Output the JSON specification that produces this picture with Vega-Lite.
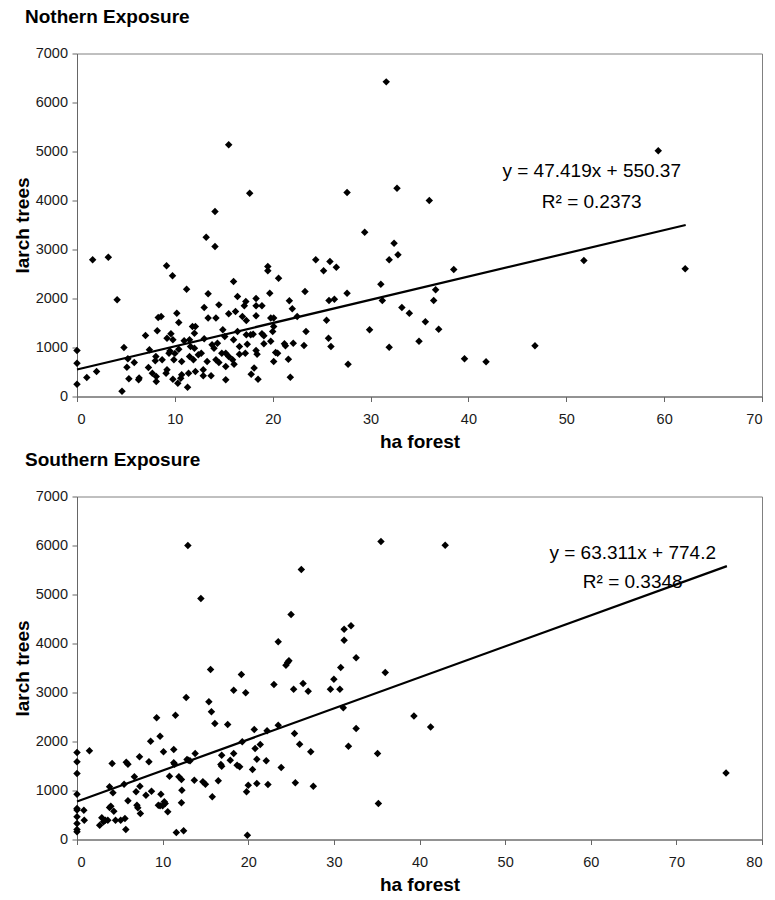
{
  "$schema": "https://vega.github.io/schema/vega-lite/v6.json",
  "background": "white",
  "padding": {"left": 12, "top": 6.5, "right": 5, "bottom": 5},
  "spacing": 100,
  "bounds": "flush",
  "config": {
    "font": "Liberation Sans",
    "view": {"stroke": "#808080", "strokeWidth": 1},
    "axis": {
      "grid": false,
      "domainColor": "#666666",
      "tickColor": "#666666",
      "tickSize": 5,
      "labelFont": "Liberation Sans",
      "labelFontSize": 14.5,
      "labelColor": "#1a1a1a",
      "titleFont": "Liberation Sans",
      "titleFontSize": 19,
      "titleFontWeight": "bold",
      "titleColor": "#000000"
    },
    "axisX": {"labelPadding": 10.5, "titlePadding": 7},
    "axisY": {"labelPadding": 4.5, "titlePadding": 3},
    "title": {"font": "Liberation Sans", "fontSize": 19, "fontWeight": "bold", "color": "#000000", "anchor": "start", "frame": "group"}
  },
  "datasets": {
    "north": [
      {"ha":0,"larch":939},{"ha":0,"larch":680},{"ha":0,"larch":252},{"ha":1,"larch":388},{"ha":1.6,"larch":2789},{"ha":2.0,"larch":510},{"ha":3.2,"larch":2844},{"ha":4.1,"larch":1973},{"ha":4.6,"larch":109},{"ha":4.8,"larch":1000},
      {"ha":5.2,"larch":769},{"ha":5.1,"larch":599},{"ha":5.3,"larch":361},{"ha":5.85,"larch":694},{"ha":6.3,"larch":340},{"ha":6.35,"larch":380},{"ha":7.0,"larch":1245},{"ha":7.4,"larch":952},{"ha":7.3,"larch":592},{"ha":7.7,"larch":476},
      {"ha":8.0,"larch":728},{"ha":8.1,"larch":408},{"ha":8.2,"larch":1340},{"ha":8.3,"larch":1612},{"ha":8.6,"larch":1633},{"ha":8.06,"larch":816},{"ha":8.7,"larch":748},{"ha":8.1,"larch":306},{"ha":9.15,"larch":2667},{"ha":9.76,"larch":2463},
      {"ha":9.2,"larch":544},{"ha":9.1,"larch":476},{"ha":9.6,"larch":1279},{"ha":9.4,"larch":884},{"ha":9.8,"larch":1156},{"ha":9.2,"larch":1190},{"ha":9.9,"larch":748},{"ha":9.8,"larch":354},{"ha":10.2,"larch":1700},{"ha":10.4,"larch":1510},
      {"ha":10.4,"larch":966},{"ha":10.3,"larch":272},{"ha":10.6,"larch":374},{"ha":10.7,"larch":442},{"ha":10.7,"larch":714},{"ha":10.95,"larch":1136},{"ha":11.2,"larch":2190},{"ha":11.3,"larch":190},{"ha":11.5,"larch":1156},{"ha":11.6,"larch":1020},
      {"ha":11.5,"larch":816},{"ha":11.4,"larch":476},{"ha":11.8,"larch":1428},{"ha":12.1,"larch":1428},{"ha":12.0,"larch":986},{"ha":11.9,"larch":748},{"ha":12.1,"larch":510},{"ha":12.4,"larch":850},{"ha":12.7,"larch":884},{"ha":12.9,"larch":544},
      {"ha":12.9,"larch":422},{"ha":13.0,"larch":1816},{"ha":13.0,"larch":1177},{"ha":13.2,"larch":3252},{"ha":13.4,"larch":2095},{"ha":13.3,"larch":714},{"ha":13.4,"larch":1600},{"ha":13.7,"larch":422},{"ha":13.8,"larch":1054},{"ha":14.0,"larch":986},
      {"ha":14.1,"larch":3061},{"ha":14.1,"larch":3776},{"ha":14.2,"larch":748},{"ha":14.2,"larch":1600},{"ha":14.35,"larch":1088},{"ha":14.5,"larch":1870},{"ha":14.5,"larch":694},{"ha":14.8,"larch":884},{"ha":14.9,"larch":1360},{"ha":15.1,"larch":1224},
      {"ha":15.2,"larch":340},{"ha":15.2,"larch":612},{"ha":15.2,"larch":884},{"ha":15.5,"larch":816},{"ha":15.5,"larch":1687},{"ha":15.9,"larch":748},{"ha":16.0,"larch":2347},{"ha":16.0,"larch":1156},{"ha":16.05,"larch":660},{"ha":16.2,"larch":1734},
      {"ha":16.4,"larch":1326},{"ha":16.4,"larch":2040},{"ha":16.6,"larch":1020},{"ha":16.6,"larch":864},{"ha":16.9,"larch":1632},{"ha":17.1,"larch":1850},{"ha":17.25,"larch":1940},{"ha":17.2,"larch":884},{"ha":17.4,"larch":1068},{"ha":17.3,"larch":1551},
      {"ha":17.65,"larch":4150},{"ha":17.75,"larch":1258},{"ha":17.8,"larch":456},{"ha":18.0,"larch":1272},{"ha":18.3,"larch":2000},{"ha":18.3,"larch":1850},{"ha":18.3,"larch":1646},{"ha":18.3,"larch":939},{"ha":18.4,"larch":864},{"ha":18.5,"larch":354},
      {"ha":18.9,"larch":1850},{"ha":18.9,"larch":1279},{"ha":19.1,"larch":1238},{"ha":19.1,"larch":1075},{"ha":19.5,"larch":2653},{"ha":19.5,"larch":2565},{"ha":19.7,"larch":2109},{"ha":19.8,"larch":1600},{"ha":19.8,"larch":1129},{"ha":20.0,"larch":1326},
      {"ha":20.1,"larch":1428},{"ha":20.1,"larch":1600},{"ha":20.1,"larch":714},{"ha":20.3,"larch":898},{"ha":20.5,"larch":884},{"ha":20.6,"larch":2415},{"ha":21.2,"larch":1075},{"ha":21.3,"larch":1034},{"ha":21.6,"larch":762},{"ha":21.7,"larch":1952},
      {"ha":21.8,"larch":394},{"ha":22.0,"larch":1789},{"ha":22.1,"larch":1088},{"ha":22.5,"larch":1632},{"ha":23.3,"larch":2143},{"ha":23.4,"larch":1326},{"ha":23.2,"larch":1041},{"ha":24.4,"larch":2789},{"ha":25.2,"larch":2565},{"ha":25.5,"larch":1558},
      {"ha":25.7,"larch":1190},{"ha":25.75,"larch":1959},{"ha":25.85,"larch":2755},{"ha":25.95,"larch":1020},{"ha":26.3,"larch":1986},{"ha":26.5,"larch":2639},{"ha":27.6,"larch":4163},{"ha":27.6,"larch":2109},{"ha":27.7,"larch":660},{"ha":29.4,"larch":3354},
      {"ha":29.9,"larch":1360},{"ha":31.05,"larch":2293},{"ha":31.2,"larch":1959},{"ha":31.9,"larch":1007},{"ha":31.9,"larch":2789},{"ha":32.4,"larch":3129},{"ha":32.7,"larch":4252},{"ha":32.8,"larch":2891},{"ha":33.2,"larch":1816},{"ha":33.96,"larch":1700},
      {"ha":34.95,"larch":1129},{"ha":35.6,"larch":1524},{"ha":36.45,"larch":1959},{"ha":36.65,"larch":2177},{"ha":36.96,"larch":1374},{"ha":38.5,"larch":2592},{"ha":39.6,"larch":769},{"ha":41.8,"larch":707},{"ha":46.8,"larch":1034},{"ha":51.8,"larch":2776},
      {"ha":62.15,"larch":2605},{"ha":59.4,"larch":5014},{"ha":31.6,"larch":6421},{"ha":15.5,"larch":5137},{"ha":36.0,"larch":4000},{"ha":12.0,"larch":1290},{"ha":17.3,"larch":1260},{"ha":18.1,"larch":580},{"ha":9.5,"larch":930},{"ha":10.0,"larch":880}
    ],
    "south": [
      {"ha":0,"larch":1776},{"ha":0,"larch":1585},{"ha":0,"larch":1347},{"ha":0,"larch":925},{"ha":0,"larch":633},{"ha":0,"larch":600},{"ha":0,"larch":463},{"ha":0,"larch":327},{"ha":0,"larch":204},{"ha":0,"larch":156},
      {"ha":0.8,"larch":599},{"ha":0.85,"larch":395},{"ha":1.45,"larch":1810},{"ha":2.65,"larch":293},{"ha":2.9,"larch":442},{"ha":3.1,"larch":361},{"ha":3.3,"larch":395},{"ha":3.6,"larch":395},{"ha":3.8,"larch":1075},{"ha":3.95,"larch":680},
      {"ha":3.8,"larch":653},{"ha":4.3,"larch":578},{"ha":4.2,"larch":952},{"ha":4.1,"larch":1551},{"ha":4.5,"larch":395},{"ha":5.1,"larch":395},{"ha":5.6,"larch":429},{"ha":5.5,"larch":1129},{"ha":5.7,"larch":204},{"ha":5.75,"larch":1578},
      {"ha":5.95,"larch":1537},{"ha":5.95,"larch":789},{"ha":6.7,"larch":1279},{"ha":6.9,"larch":973},{"ha":7.0,"larch":701},{"ha":7.1,"larch":646},{"ha":7.3,"larch":1687},{"ha":7.35,"larch":1088},{"ha":7.4,"larch":531},{"ha":8.05,"larch":905},
      {"ha":8.4,"larch":1585},{"ha":8.6,"larch":2007},{"ha":8.7,"larch":986},{"ha":9.3,"larch":2483},{"ha":9.5,"larch":701},{"ha":9.7,"larch":2109},{"ha":9.8,"larch":925},{"ha":9.7,"larch":687},{"ha":10.1,"larch":1789},{"ha":10.0,"larch":687},
      {"ha":10.3,"larch":735},{"ha":10.2,"larch":769},{"ha":10.6,"larch":565},{"ha":10.8,"larch":1293},{"ha":11.3,"larch":1837},{"ha":11.3,"larch":1565},{"ha":11.4,"larch":1537},{"ha":11.5,"larch":2537},{"ha":11.6,"larch":143},{"ha":11.9,"larch":1279},
      {"ha":12.2,"larch":1224},{"ha":12.25,"larch":1007},{"ha":12.2,"larch":748},{"ha":12.45,"larch":177},{"ha":12.75,"larch":2898},{"ha":12.85,"larch":1633},{"ha":13.0,"larch":1619},{"ha":13.2,"larch":1605},{"ha":13.7,"larch":1211},{"ha":13.8,"larch":1755},
      {"ha":14.7,"larch":1177},{"ha":15.0,"larch":1129},{"ha":15.4,"larch":2810},{"ha":15.6,"larch":3469},{"ha":15.7,"larch":2605},{"ha":15.8,"larch":871},{"ha":16.1,"larch":2367},{"ha":16.5,"larch":1197},{"ha":16.8,"larch":1531},{"ha":16.9,"larch":1721},
      {"ha":16.9,"larch":1497},{"ha":17.6,"larch":2347},{"ha":17.9,"larch":1619},{"ha":18.3,"larch":3048},{"ha":18.3,"larch":1755},{"ha":18.7,"larch":1517},{"ha":19.0,"larch":1483},{"ha":19.2,"larch":3367},{"ha":19.3,"larch":1993},{"ha":19.7,"larch":2993},
      {"ha":19.8,"larch":973},{"ha":20.0,"larch":1109},{"ha":19.9,"larch":88},{"ha":20.5,"larch":1429},{"ha":20.7,"larch":2245},{"ha":20.8,"larch":1857},{"ha":21.0,"larch":1143},{"ha":21.0,"larch":1639},{"ha":21.4,"larch":1939},{"ha":22.1,"larch":1605},
      {"ha":22.2,"larch":2218},{"ha":22.3,"larch":1122},{"ha":23.0,"larch":3163},{"ha":23.5,"larch":2333},{"ha":23.5,"larch":4034},{"ha":23.85,"larch":1469},{"ha":24.4,"larch":3558},{"ha":24.6,"larch":3612},{"ha":24.75,"larch":3646},{"ha":25.3,"larch":3068},
      {"ha":25.4,"larch":2163},{"ha":25.5,"larch":1156},{"ha":26.0,"larch":1946},{"ha":26.4,"larch":3184},{"ha":27.0,"larch":3027},{"ha":27.3,"larch":1789},{"ha":27.6,"larch":1088},{"ha":29.6,"larch":3068},{"ha":30.0,"larch":3272},{"ha":30.7,"larch":3068},
      {"ha":30.8,"larch":3510},{"ha":31.1,"larch":2687},{"ha":31.2,"larch":4068},{"ha":31.7,"larch":1905},{"ha":32.6,"larch":3707},{"ha":32.6,"larch":2265},{"ha":35.1,"larch":1755},{"ha":35.2,"larch":735},{"ha":36.0,"larch":3408},{"ha":12.95,"larch":6000},
      {"ha":14.47,"larch":4918},{"ha":26.2,"larch":5510},{"ha":25.0,"larch":4592},{"ha":31.2,"larch":4293},{"ha":32.0,"larch":4361},{"ha":35.5,"larch":6082},{"ha":43.0,"larch":6007},{"ha":39.35,"larch":2519},{"ha":41.3,"larch":2295},{"ha":75.8,"larch":1355}
    ],
    "northLine": [{"ha":0,"larch":550.37},{"ha":62.2,"larch":3499.8}],
    "southLine": [{"ha":0,"larch":774.2},{"ha":75.9,"larch":5579.5}],
    "northText": [{"ha":52.6,"larch":4472,"label":"y = 47.419x + 550.37"},{"ha":52.6,"larch":3840,"label":"R² = 0.2373"}],
    "southText": [{"ha":64.9,"larch":5721,"label":"y = 63.311x + 774.2"},{"ha":64.9,"larch":5129,"label":"R² = 0.3348"}]
  },
  "vconcat": [
    {
      "width": 685,
      "height": 343,
      "title": {"text": "Nothern Exposure", "anchor": "start", "frame": "group", "dx": -52, "offset": 19},
      "layer": [
        {
          "data": {"name": "north"},
          "mark": {"type": "point", "shape": "diamond", "filled": true, "color": "#000000", "opacity": 1, "size": 56},
          "encoding": {
            "x": {"field": "ha", "type": "quantitative", "scale": {"domain": [0, 70], "nice": false}, "axis": {"title": "ha forest", "values": [0,10,20,30,40,50,60,70], "format": "d"}},
            "y": {"field": "larch", "type": "quantitative", "scale": {"domain": [0, 7000], "nice": false}, "axis": {"title": "larch trees", "values": [0,1000,2000,3000,4000,5000,6000,7000], "format": "d"}}
          }
        },
        {
          "data": {"name": "northLine"},
          "mark": {"type": "line", "color": "#000000", "strokeWidth": 2.2},
          "encoding": {
            "x": {"field": "ha", "type": "quantitative"},
            "y": {"field": "larch", "type": "quantitative"}
          }
        },
        {
          "data": {"name": "northText"},
          "mark": {"type": "text", "font": "Liberation Sans", "fontSize": 19, "align": "center", "baseline": "alphabetic", "color": "#000000"},
          "encoding": {
            "x": {"field": "ha", "type": "quantitative"},
            "y": {"field": "larch", "type": "quantitative"},
            "text": {"field": "label"}
          }
        }
      ]
    },
    {
      "width": 685,
      "height": 343,
      "title": {"text": "Southern Exposure", "anchor": "start", "frame": "group", "dx": -52, "offset": 19},
      "layer": [
        {
          "data": {"name": "south"},
          "mark": {"type": "point", "shape": "diamond", "filled": true, "color": "#000000", "opacity": 1, "size": 56},
          "encoding": {
            "x": {"field": "ha", "type": "quantitative", "scale": {"domain": [0, 80], "nice": false}, "axis": {"title": "ha forest", "values": [0,10,20,30,40,50,60,70,80], "format": "d"}},
            "y": {"field": "larch", "type": "quantitative", "scale": {"domain": [0, 7000], "nice": false}, "axis": {"title": "larch trees", "values": [0,1000,2000,3000,4000,5000,6000,7000], "format": "d"}}
          }
        },
        {
          "data": {"name": "southLine"},
          "mark": {"type": "line", "color": "#000000", "strokeWidth": 2.2},
          "encoding": {
            "x": {"field": "ha", "type": "quantitative"},
            "y": {"field": "larch", "type": "quantitative"}
          }
        },
        {
          "data": {"name": "southText"},
          "mark": {"type": "text", "font": "Liberation Sans", "fontSize": 19, "align": "center", "baseline": "alphabetic", "color": "#000000"},
          "encoding": {
            "x": {"field": "ha", "type": "quantitative"},
            "y": {"field": "larch", "type": "quantitative"},
            "text": {"field": "label"}
          }
        }
      ]
    }
  ]
}
